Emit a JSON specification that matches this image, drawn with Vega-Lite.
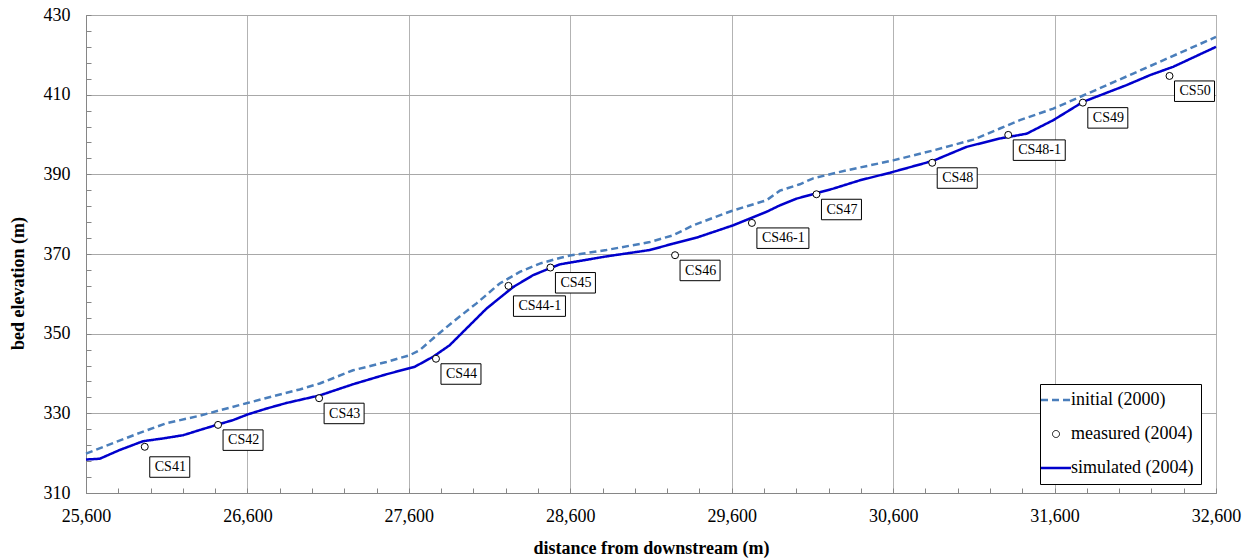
{
  "$schema": "https://vega.github.io/schema/vega-lite/v6.json",
  "width": 1130,
  "height": 478,
  "autosize": {"type": "none"},
  "padding": {"left": 86, "top": 15, "right": 36, "bottom": 67},
  "background": "white",
  "config": {
    "view": {"stroke": "#868686", "strokeWidth": 1},
    "font": "Liberation Serif",
    "axis": {"labelFont": "Liberation Serif", "titleFont": "Liberation Serif", "labelColor": "black", "titleColor": "black"},
    "legend": {"labelFont": "Liberation Serif"}
  },
  "datasets": {
    "lines": [
      {"series": "initial (2000)", "dist": 25600, "elev": 319.9},
      {"series": "initial (2000)", "dist": 25933, "elev": 325.1},
      {"series": "initial (2000)", "dist": 26098, "elev": 327.5},
      {"series": "initial (2000)", "dist": 26304, "elev": 329.4},
      {"series": "initial (2000)", "dist": 26600, "elev": 332.6},
      {"series": "initial (2000)", "dist": 26924, "elev": 336.0},
      {"series": "initial (2000)", "dist": 27048, "elev": 337.5},
      {"series": "initial (2000)", "dist": 27254, "elev": 340.8},
      {"series": "initial (2000)", "dist": 27461, "elev": 342.9},
      {"series": "initial (2000)", "dist": 27606, "elev": 344.6},
      {"series": "initial (2000)", "dist": 27668, "elev": 345.9},
      {"series": "initial (2000)", "dist": 27750, "elev": 348.8},
      {"series": "initial (2000)", "dist": 27874, "elev": 353.0},
      {"series": "initial (2000)", "dist": 28019, "elev": 357.6},
      {"series": "initial (2000)", "dist": 28163, "elev": 362.6},
      {"series": "initial (2000)", "dist": 28287, "elev": 365.5},
      {"series": "initial (2000)", "dist": 28411, "elev": 367.6},
      {"series": "initial (2000)", "dist": 28535, "elev": 369.0},
      {"series": "initial (2000)", "dist": 28597, "elev": 369.6},
      {"series": "initial (2000)", "dist": 28824, "elev": 371.0},
      {"series": "initial (2000)", "dist": 29093, "elev": 373.0},
      {"series": "initial (2000)", "dist": 29237, "elev": 374.7},
      {"series": "initial (2000)", "dist": 29361, "elev": 377.2},
      {"series": "initial (2000)", "dist": 29599, "elev": 380.8},
      {"series": "initial (2000)", "dist": 29816, "elev": 383.5},
      {"series": "initial (2000)", "dist": 29898, "elev": 385.9},
      {"series": "initial (2000)", "dist": 30022, "elev": 387.5},
      {"series": "initial (2000)", "dist": 30105, "elev": 389.0},
      {"series": "initial (2000)", "dist": 30311, "elev": 391.0},
      {"series": "initial (2000)", "dist": 30600, "elev": 393.5},
      {"series": "initial (2000)", "dist": 30848, "elev": 396.0},
      {"series": "initial (2000)", "dist": 31096, "elev": 398.7},
      {"series": "initial (2000)", "dist": 31261, "elev": 401.5},
      {"series": "initial (2000)", "dist": 31385, "elev": 403.6},
      {"series": "initial (2000)", "dist": 31592, "elev": 406.5},
      {"series": "initial (2000)", "dist": 31767, "elev": 409.6},
      {"series": "initial (2000)", "dist": 32087, "elev": 415.3},
      {"series": "initial (2000)", "dist": 32600, "elev": 424.5},
      {"series": "simulated (2004)", "dist": 25600, "elev": 318.4},
      {"series": "simulated (2004)", "dist": 25685, "elev": 318.6},
      {"series": "simulated (2004)", "dist": 25809, "elev": 320.8},
      {"series": "simulated (2004)", "dist": 25953, "elev": 323.0},
      {"series": "simulated (2004)", "dist": 26077, "elev": 323.7},
      {"series": "simulated (2004)", "dist": 26201, "elev": 324.5},
      {"series": "simulated (2004)", "dist": 26304, "elev": 325.8},
      {"series": "simulated (2004)", "dist": 26418, "elev": 327.2},
      {"series": "simulated (2004)", "dist": 26511, "elev": 328.3},
      {"series": "simulated (2004)", "dist": 26600, "elev": 329.7},
      {"series": "simulated (2004)", "dist": 26718, "elev": 331.2},
      {"series": "simulated (2004)", "dist": 26842, "elev": 332.6},
      {"series": "simulated (2004)", "dist": 27048, "elev": 334.5},
      {"series": "simulated (2004)", "dist": 27254, "elev": 337.3},
      {"series": "simulated (2004)", "dist": 27461, "elev": 339.8},
      {"series": "simulated (2004)", "dist": 27637, "elev": 341.7},
      {"series": "simulated (2004)", "dist": 27750, "elev": 344.2},
      {"series": "simulated (2004)", "dist": 27853, "elev": 347.1},
      {"series": "simulated (2004)", "dist": 27957, "elev": 351.3},
      {"series": "simulated (2004)", "dist": 28081, "elev": 356.3},
      {"series": "simulated (2004)", "dist": 28246, "elev": 361.7},
      {"series": "simulated (2004)", "dist": 28370, "elev": 364.7},
      {"series": "simulated (2004)", "dist": 28473, "elev": 366.4},
      {"series": "simulated (2004)", "dist": 28535, "elev": 367.4},
      {"series": "simulated (2004)", "dist": 28824, "elev": 369.4},
      {"series": "simulated (2004)", "dist": 29093, "elev": 371.0},
      {"series": "simulated (2004)", "dist": 29237, "elev": 372.6},
      {"series": "simulated (2004)", "dist": 29382, "elev": 374.1},
      {"series": "simulated (2004)", "dist": 29609, "elev": 377.2},
      {"series": "simulated (2004)", "dist": 29816, "elev": 380.6},
      {"series": "simulated (2004)", "dist": 29898, "elev": 382.2},
      {"series": "simulated (2004)", "dist": 30002, "elev": 383.9},
      {"series": "simulated (2004)", "dist": 30228, "elev": 386.4},
      {"series": "simulated (2004)", "dist": 30394, "elev": 388.5},
      {"series": "simulated (2004)", "dist": 30580, "elev": 390.4},
      {"series": "simulated (2004)", "dist": 30848, "elev": 393.4},
      {"series": "simulated (2004)", "dist": 31055, "elev": 396.9},
      {"series": "simulated (2004)", "dist": 31261, "elev": 399.0},
      {"series": "simulated (2004)", "dist": 31427, "elev": 400.2},
      {"series": "simulated (2004)", "dist": 31592, "elev": 403.6},
      {"series": "simulated (2004)", "dist": 31777, "elev": 408.2},
      {"series": "simulated (2004)", "dist": 32046, "elev": 412.4},
      {"series": "simulated (2004)", "dist": 32191, "elev": 414.9},
      {"series": "simulated (2004)", "dist": 32335, "elev": 417.0},
      {"series": "simulated (2004)", "dist": 32600, "elev": 422.0}
    ],
    "pts": [
      {"series": "measured (2004)", "label": "CS41", "dist": 25964, "elev": 321.6},
      {"series": "measured (2004)", "label": "CS42", "dist": 26418, "elev": 327.1},
      {"series": "measured (2004)", "label": "CS43", "dist": 27044, "elev": 333.8},
      {"series": "measured (2004)", "label": "CS44", "dist": 27768, "elev": 343.7},
      {"series": "measured (2004)", "label": "CS44-1", "dist": 28217, "elev": 362.0},
      {"series": "measured (2004)", "label": "CS45", "dist": 28477, "elev": 366.6},
      {"series": "measured (2004)", "label": "CS46", "dist": 29249, "elev": 369.7},
      {"series": "measured (2004)", "label": "CS46-1", "dist": 29725, "elev": 377.8},
      {"series": "measured (2004)", "label": "CS47", "dist": 30125, "elev": 385.0},
      {"series": "measured (2004)", "label": "CS48", "dist": 30842, "elev": 392.9},
      {"series": "measured (2004)", "label": "CS48-1", "dist": 31313, "elev": 399.9},
      {"series": "measured (2004)", "label": "CS49", "dist": 31775, "elev": 408.0},
      {"series": "measured (2004)", "label": "CS50", "dist": 32312, "elev": 414.7}
    ]
  },
  "layer": [
    {
      "data": {"name": "lines"},
      "mark": {"type": "line", "strokeWidth": 2.5},
      "encoding": {
        "x": {"field": "dist", "type": "quantitative", "scale": {"domain": [25600, 32600], "nice": false, "zero": false},
          "axis": {"values": [25600, 25800, 26000, 26200, 26400, 26600, 26800, 27000, 27200, 27400, 27600, 27800, 28000, 28200, 28400, 28600, 28800, 29000, 29200, 29400, 29600, 29800, 30000, 30200, 30400, 30600, 30800, 31000, 31200, 31400, 31600, 31800, 32000, 32200, 32400, 32600],
            "tickCount": 200,
            "format": ",d", "labelExpr": "(datum.value - 25600) % 1000 === 0 ? datum.label : ''",
            "title": "distance from downstream (m)",
            "orient": "bottom", "grid": true, "gridColor": "#b3b3b3", "gridWidth": 1,
            "gridOpacity": {"condition": {"test": "(datum.value - 25600) % 1000 === 0", "value": 1}, "value": 0},
            "ticks": true, "tickSize": -5, "tickColor": "#868686", "tickWidth": 1, "domainColor": "#868686",
            "labelFontSize": 18, "labelPadding": 19, "titleFontSize": 18, "titleFontWeight": "bold", "titlePadding": 14, "labelFlush": false, "labelOverlap": false}},
        "y": {"field": "elev", "type": "quantitative", "scale": {"domain": [310, 430], "nice": false, "zero": false},
          "axis": {"values": [310, 314, 318, 322, 326, 330, 334, 338, 342, 346, 350, 354, 358, 362, 366, 370, 374, 378, 382, 386, 390, 394, 398, 402, 406, 410, 414, 418, 422, 426, 430],
            "tickCount": 200, "format": "d",
            "labelExpr": "(datum.value - 310) % 20 === 0 ? datum.label : ''",
            "title": "bed elevation (m)", "orient": "left", "grid": true, "gridColor": "#a8a8a8", "gridWidth": 1,
            "gridOpacity": {"condition": {"test": "(datum.value - 310) % 20 === 0", "value": 1}, "value": 0},
            "ticks": true, "tickSize": -5, "tickColor": "#868686", "tickWidth": 1,
            "domainColor": "#868686", "labelFontSize": 18, "labelPadding": 21, "titleFontSize": 18, "titleFontWeight": "bold",
            "titlePadding": 16, "titleY": 268, "labelFlush": false, "labelOverlap": false}},
        "color": {"field": "series", "type": "nominal",
          "scale": {"domain": ["initial (2000)", "measured (2004)", "simulated (2004)"], "range": ["#4a7ebb", "#000000", "#0000cc"]},
          "legend": {"title": null, "orient": "none", "legendX": 954, "legendY": 369, "direction": "vertical",
            "strokeColor": "#000000", "fillColor": "white", "padding": 7, "rowPadding": 16, "labelFontSize": 18,
            "labelColor": "black", "labelOffset": 6, "labelLimit": 300,
            "encode": {"symbols": {"update": {
              "shape": {"signal": "datum.value === 'measured (2004)' ? 'circle' : 'stroke'"},
              "size": {"signal": "datum.value === 'measured (2004)' ? 49 : 900"},
              "strokeDash": {"signal": "datum.value === 'initial (2000)' ? [7, 4] : [1, 0]"},
              "strokeWidth": {"signal": "datum.value === 'measured (2004)' ? 1 : 2.5"},
              "fill": {"value": "transparent"},
              "opacity": {"value": 1}
            }}}}},
        "strokeDash": {"field": "series", "type": "nominal",
          "scale": {"domain": ["initial (2000)", "simulated (2004)"], "range": [[7, 4], [1, 0]]}, "legend": null}
      }
    },
    {
      "data": {"name": "pts"},
      "mark": {"type": "point", "shape": "circle", "filled": false, "fill": "white", "size": 49, "strokeWidth": 1, "opacity": 1},
      "encoding": {
        "x": {"field": "dist", "type": "quantitative"},
        "y": {"field": "elev", "type": "quantitative"},
        "color": {"field": "series", "type": "nominal"}
      }
    },
    {
      "data": {"name": "pts"},
      "mark": {"type": "point", "filled": false, "fill": "white", "stroke": "black", "size": 10000, "strokeWidth": 1, "opacity": 1},
      "encoding": {
        "x": {"field": "dist", "type": "quantitative"},
        "y": {"field": "elev", "type": "quantitative"},
        "shape": {"field": "label", "type": "nominal", "legend": null,
          "scale": {"domain": ["CS41", "CS42", "CS43", "CS44", "CS44-1", "CS45", "CS46", "CS46-1", "CS47", "CS48", "CS48-1", "CS49", "CS50"],
            "range": [
              "M0.1,0.2L0.9,0.2L0.9,0.61L0.1,0.61Z",
              "M0.1,0.1L0.9,0.1L0.9,0.51L0.1,0.51Z",
              "M0.1,0.1L0.9,0.1L0.9,0.51L0.1,0.51Z",
              "M0.1,0.1L0.9,0.1L0.9,0.51L0.1,0.51Z",
              "M0.1,0.2L1.14,0.2L1.14,0.61L0.1,0.61Z",
              "M0.1,0.1L0.9,0.1L0.9,0.51L0.1,0.51Z",
              "M0.1,0.1L0.9,0.1L0.9,0.51L0.1,0.51Z",
              "M0.1,0.1L1.14,0.1L1.14,0.51L0.1,0.51Z",
              "M0.1,0.1L0.9,0.1L0.9,0.51L0.1,0.51Z",
              "M0.1,0.1L0.9,0.1L0.9,0.51L0.1,0.51Z",
              "M0.1,0.1L1.14,0.1L1.14,0.51L0.1,0.51Z",
              "M0.1,0.1L0.9,0.1L0.9,0.51L0.1,0.51Z",
              "M0.1,0.1L0.9,0.1L0.9,0.51L0.1,0.51Z"
            ]}}
      }
    },
    {
      "data": {"name": "pts"},
      "transform": [{"filter": "datum.label !== 'CS41' && datum.label !== 'CS44-1'"}],
      "mark": {"type": "text", "align": "left", "baseline": "middle", "dx": 10, "dy": 15.5, "fontSize": 14, "color": "black", "font": "Liberation Serif"},
      "encoding": {
        "x": {"field": "dist", "type": "quantitative"},
        "y": {"field": "elev", "type": "quantitative"},
        "text": {"field": "label", "type": "nominal"}
      }
    },
    {
      "data": {"name": "pts"},
      "transform": [{"filter": "datum.label === 'CS41' || datum.label === 'CS44-1'"}],
      "mark": {"type": "text", "align": "left", "baseline": "middle", "dx": 10, "dy": 20.5, "fontSize": 14, "color": "black", "font": "Liberation Serif"},
      "encoding": {
        "x": {"field": "dist", "type": "quantitative"},
        "y": {"field": "elev", "type": "quantitative"},
        "text": {"field": "label", "type": "nominal"}
      }
    }
  ]
}
